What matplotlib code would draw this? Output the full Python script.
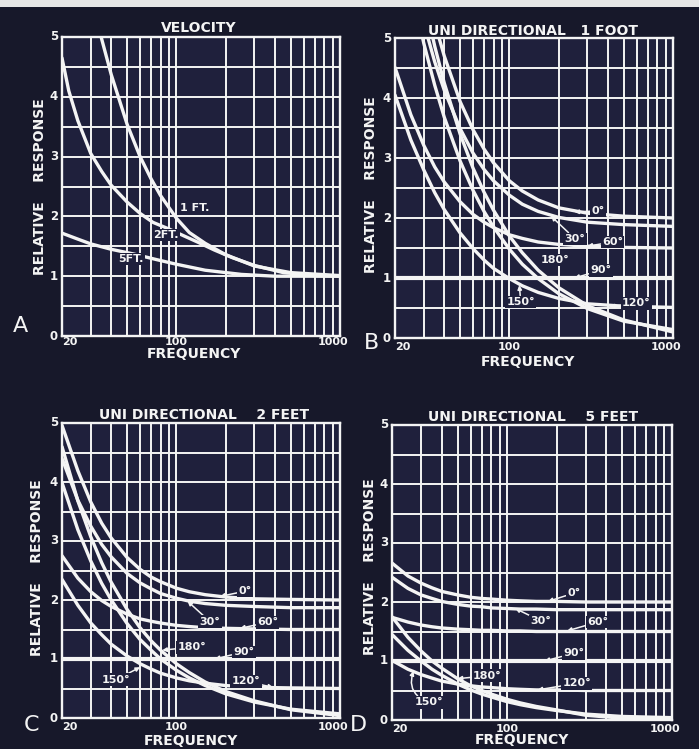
import matplotlib
matplotlib.use("Agg")
import matplotlib.pyplot as plt
from matplotlib.ticker import NullLocator

# ---------------- data ----------------
X_GRID = [20, 30, 40, 50, 60, 70, 80, 90, 100, 200, 300, 400, 500, 600, 700, 800, 900, 1000]
Y_GRID = [0, 0.5, 1, 1.5, 2, 2.5, 3, 3.5, 4, 4.5, 5]
X_TICK_LABELS = ["20", "100", "1000"]
Y_TICK_LABELS = ["0", "1", "2", "3", "4", "5"]

# Panel A: velocity microphone
A_FREQ_1 = [30, 35, 40, 50, 60, 70, 80, 100, 120, 150, 200, 300, 500, 1000]
A_1FT = [5.75, 4.96, 4.37, 3.54, 3.00, 2.63, 2.35, 1.97, 1.73, 1.55, 1.36, 1.17, 1.06, 1.01]
A_FREQ_2 = [20, 22, 25, 30, 35, 40, 50, 60, 72, 90, 110, 135, 170, 220, 300, 450, 700, 1000]
A_2FT = [4.65, 4.10, 3.60, 3.05, 2.75, 2.52, 2.24, 2.05, 1.90, 1.79, 1.68, 1.57, 1.44, 1.31, 1.18, 1.06, 1.01, 1.00]
A_FREQ_5 = [20, 25, 30, 40, 55, 75, 100, 150, 250, 400, 1000]
A_5FT = [1.72, 1.62, 1.54, 1.45, 1.37, 1.28, 1.20, 1.10, 1.03, 1.00, 1.00]
A_NAMES = ["1 FT.", "2FT.", "5FT."]

# Panels B, C, D: unidirectional at 1, 2, 5 feet
FREQ = [20, 25, 30, 35, 40, 50, 60, 70, 80, 100, 120, 150, 200, 300, 500, 1000]
ANGLES = ["0°", "30°", "60°", "90°", "120°", "150°", "180°"]

B_0 = [8.73, 7.09, 6.01, 5.25, 4.70, 3.94, 3.47, 3.15, 2.92, 2.62, 2.45, 2.30, 2.17, 2.08, 2.03, 2.00]
B_30 = [7.60, 6.18, 5.25, 4.60, 4.13, 3.49, 3.08, 2.81, 2.62, 2.38, 2.23, 2.11, 2.01, 1.93, 1.89, 1.86]
B_60 = [4.51, 3.72, 3.21, 2.85, 2.60, 2.27, 2.06, 1.93, 1.84, 1.72, 1.66, 1.60, 1.56, 1.53, 1.51, 1.50]
B_90 = [1.0, 1.0, 1.0, 1.0, 1.0, 1.0, 1.0, 1.0, 1.0, 1.0, 1.0, 1.0, 1.0, 1.0, 1.0, 1.0]
B_120 = [4.05, 3.30, 2.80, 2.42, 2.14, 1.75, 1.49, 1.30, 1.16, 0.99, 0.87, 0.76, 0.66, 0.57, 0.53, 0.51]
B_150 = [7.36, 5.89, 4.91, 4.21, 3.68, 2.95, 2.46, 2.11, 1.85, 1.48, 1.23, 0.99, 0.74, 0.49, 0.28, 0.14]
B_180 = [8.50, 6.80, 5.67, 4.86, 4.25, 3.40, 2.83, 2.43, 2.13, 1.70, 1.42, 1.13, 0.84, 0.54, 0.30, 0.10]

C_0 = [4.96, 4.19, 3.66, 3.30, 3.05, 2.72, 2.52, 2.39, 2.31, 2.20, 2.14, 2.09, 2.05, 2.02, 2.01, 2.00]
C_30 = [4.40, 3.69, 3.25, 2.94, 2.73, 2.45, 2.29, 2.19, 2.11, 2.03, 1.98, 1.94, 1.91, 1.89, 1.87, 1.87]
C_60 = [2.75, 2.37, 2.14, 1.99, 1.89, 1.76, 1.68, 1.64, 1.61, 1.57, 1.55, 1.53, 1.52, 1.51, 1.50, 1.50]
C_90 = [1.0, 1.0, 1.0, 1.0, 1.0, 1.0, 1.0, 1.0, 1.0, 1.0, 1.0, 1.0, 1.0, 1.0, 1.0, 1.0]
C_120 = [2.35, 1.91, 1.61, 1.41, 1.25, 1.05, 0.92, 0.83, 0.76, 0.68, 0.63, 0.59, 0.55, 0.52, 0.51, 0.50]
C_150 = [3.99, 3.19, 2.66, 2.28, 2.00, 1.60, 1.33, 1.15, 1.00, 0.81, 0.68, 0.55, 0.41, 0.27, 0.15, 0.07]
C_180 = [4.60, 3.68, 3.07, 2.63, 2.30, 1.84, 1.53, 1.31, 1.15, 0.92, 0.77, 0.61, 0.45, 0.29, 0.14, 0.04]

D_0 = [2.66, 2.44, 2.32, 2.24, 2.18, 2.12, 2.08, 2.06, 2.05, 2.03, 2.02, 2.01, 2.01, 2.00, 2.00, 2.00]
D_30 = [2.42, 2.23, 2.12, 2.06, 2.01, 1.96, 1.93, 1.92, 1.90, 1.89, 1.88, 1.88, 1.87, 1.87, 1.87, 1.87]
D_60 = [1.74, 1.66, 1.61, 1.58, 1.56, 1.54, 1.53, 1.52, 1.52, 1.51, 1.51, 1.50, 1.50, 1.50, 1.50, 1.50]
D_90 = [1.0, 1.0, 1.0, 1.0, 1.0, 1.0, 1.0, 1.0, 1.0, 1.0, 1.0, 1.0, 1.0, 1.0, 1.0, 1.0]
D_120 = [1.01, 0.86, 0.77, 0.71, 0.66, 0.61, 0.58, 0.56, 0.55, 0.53, 0.52, 0.51, 0.51, 0.50, 0.50, 0.50]
D_150 = [1.45, 1.18, 1.00, 0.86, 0.76, 0.61, 0.51, 0.44, 0.39, 0.31, 0.26, 0.21, 0.16, 0.10, 0.06, 0.04]
D_180 = [1.75, 1.40, 1.17, 1.00, 0.88, 0.70, 0.58, 0.50, 0.44, 0.35, 0.29, 0.23, 0.17, 0.08, 0.03, 0.01]

TITLES = ["VELOCITY", "UNI DIRECTIONAL   1 FOOT", "UNI DIRECTIONAL    2 FEET", "UNI DIRECTIONAL    5 FEET"]
LETTERS = ["A", "B", "C", "D"]
Y_LABEL = "RELATIVE    RESPONSE"
X_LABEL = "FREQUENCY"

# ---------------- layout / style ----------------
W, H = 699, 749
FIG_BG = "#17182a"
AX_BG = "#1f203c"
WHITE = "#f4f4f4"
FONT = "DejaVu Sans"

# axes boxes in pixels: left, right, top, bottom
BOXES = [(62, 340, 37, 336), (395, 673, 38, 338), (62, 340, 423, 718), (392, 672, 425, 720)]
TITLE_POS = [(199, 28), (533, 31), (204, 415), (533, 417)]
YLAB_POS = [(40, 187), (371, 185), (37, 568), (370, 567)]
XLAB_POS = [(194, 354), (528, 362), (191, 741), (522, 740)]
LETTER_POS = [(20, 326), (371, 343), (31, 725), (358, 725)]

# curve label placements: (text_x, text_y, arrow_x, arrow_y) ; None arrow => no arrow
A_LABEL_POS = [(105, 2.14), (72, 1.69), (44, 1.29)]
B_LABEL_POS = {"0°": (318, 2.12, 250, 2.10), "30°": (218, 1.65, 180, 2.03),
               "60°": (368, 1.60, 300, 1.53), "90°": (313, 1.13, 250, 1.0),
               "120°": (488, 0.58, 412, 0.52), "150°": (96, 0.60, 115, 0.88),
               "180°": (155, 1.30, None, None)}
C_LABEL_POS = {"0°": (240, 2.15, 185, 2.06), "30°": (139, 1.63, 117, 1.98),
               "60°": (311, 1.62, 245, 1.52), "90°": (222, 1.12, 172, 1.0),
               "120°": (218, 0.62, 390, 0.52), "150°": (35, 0.65, 60, 0.86),
               "180°": (102, 1.20, 82, 1.15)}
D_LABEL_POS = {"0°": (231, 2.15, 177, 2.01), "30°": (138, 1.68, 112, 1.89),
               "60°": (305, 1.66, 231, 1.51), "90°": (218, 1.13, 169, 1.0),
               "120°": (216, 0.62, 153, 0.51), "150°": (27.6, 0.30, 27, 0.83),
               "180°": (62, 0.75, 50, 0.70)}

plt.rcParams["font.family"] = [FONT]
fig = plt.figure(figsize=(W / 100, H / 100), dpi=100)
fig.patch.set_facecolor(FIG_BG)

# light strip at top edge of the photograph
fig.patches.append(plt.Rectangle((0, 1 - 7 / H), 1, 7 / H, transform=fig.transFigure,
                                 facecolor="#e6e6e6", edgecolor="none", zorder=0))


def px(x, y):
    return x / W, 1 - y / H


def make_axes(i):
    l, r, t, b = BOXES[i]
    ax = fig.add_axes([l / W, (H - b) / H, (r - l) / W, (b - t) / H])
    ax.set_facecolor(AX_BG)
    ax.set_xscale("log")
    ax.set_xlim(20, 1000)
    ax.set_ylim(0, 5)
    ax.set_xticks(X_GRID)
    ax.set_xticklabels([])
    ax.xaxis.set_minor_locator(NullLocator())
    ax.set_yticks(Y_GRID)
    ax.set_yticklabels([])
    ax.tick_params(length=0)
    ax.grid(True, color=WHITE, lw=1.4, zorder=1)
    ax.set_axisbelow(True)
    for s in ax.spines.values():
        s.set_color(WHITE)
        s.set_linewidth(1.7)
    # y tick labels
    for lab in Y_TICK_LABELS:
        ax.annotate(lab, xy=(0, float(lab)), xycoords=("axes fraction", "data"),
                    xytext=(-3, 0), textcoords="offset points", ha="right", va="center",
                    color=WHITE, fontsize=8.5, fontweight="bold")
    # x tick labels
    dy = -0.5 if i == 0 else -3
    ax.annotate(X_TICK_LABELS[0], xy=(20, 0), xycoords=("data", "axes fraction"),
                xytext=(0, dy), textcoords="offset points", ha="left", va="top",
                color=WHITE, fontsize=8, fontweight="bold")
    ax.annotate(X_TICK_LABELS[1], xy=(100, 0), xycoords=("data", "axes fraction"),
                xytext=(0, dy), textcoords="offset points", ha="center", va="top",
                color=WHITE, fontsize=8, fontweight="bold")
    ax.annotate(X_TICK_LABELS[2], xy=(1000, 0), xycoords=("data", "axes fraction"),
                xytext=(-5, dy), textcoords="offset points", ha="center", va="top",
                color=WHITE, fontsize=8, fontweight="bold")
    fig.text(*px(*TITLE_POS[i]), TITLES[i], ha="center", va="center", color=WHITE,
             fontsize=10, fontweight="bold")
    fig.text(*px(*YLAB_POS[i]), Y_LABEL, ha="center", va="center", color=WHITE,
             fontsize=10, fontweight="bold", rotation=90)
    fig.text(*px(*XLAB_POS[i]), X_LABEL, ha="center", va="center", color=WHITE,
             fontsize=10, fontweight="bold")
    fig.text(*px(*LETTER_POS[i]), LETTERS[i], ha="center", va="center", color=WHITE,
             fontsize=16)
    return ax


CURVE = dict(color=WHITE, lw=2.4, solid_capstyle="round", zorder=3)
LBL = dict(color=WHITE, fontsize=8, fontweight="bold", ha="left", va="center", zorder=5,
           bbox=dict(boxstyle="square,pad=0.12", fc=AX_BG, ec="none"))

# Panel A
ax = make_axes(0)
for f, v in ((A_FREQ_1, A_1FT), (A_FREQ_2, A_2FT), (A_FREQ_5, A_5FT)):
    ax.plot(f, v, **CURVE)
for name, (tx, ty) in zip(A_NAMES, A_LABEL_POS):
    ax.text(tx, ty, name, **LBL)


def uni_panel(i, curves, label_pos):
    ax = make_axes(i)
    for name, vals in zip(ANGLES, curves):
        lw = 3.0 if name == "90°" else 2.4
        ax.plot(FREQ, vals, **{**CURVE, "lw": lw})
    for name in ANGLES:
        tx, ty, axx, ayy = label_pos[name]
        if axx is None:
            ax.text(tx, ty, name, **LBL)
        else:
            rad = -0.5 if name == "150°" and i == 3 else 0.0
            ax.annotate(name, xy=(axx, ayy), xytext=(tx, ty),
                        arrowprops=dict(arrowstyle="-|>", color=WHITE, lw=1.1,
                                        mutation_scale=6, shrinkA=0, shrinkB=0,
                                        connectionstyle=f"arc3,rad={rad}"),
                        **LBL)
    return ax


uni_panel(1, [B_0, B_30, B_60, B_90, B_120, B_150, B_180], B_LABEL_POS)
uni_panel(2, [C_0, C_30, C_60, C_90, C_120, C_150, C_180], C_LABEL_POS)
uni_panel(3, [D_0, D_30, D_60, D_90, D_120, D_150, D_180], D_LABEL_POS)

fig.savefig("out.png", dpi=100, facecolor=fig.get_facecolor())
